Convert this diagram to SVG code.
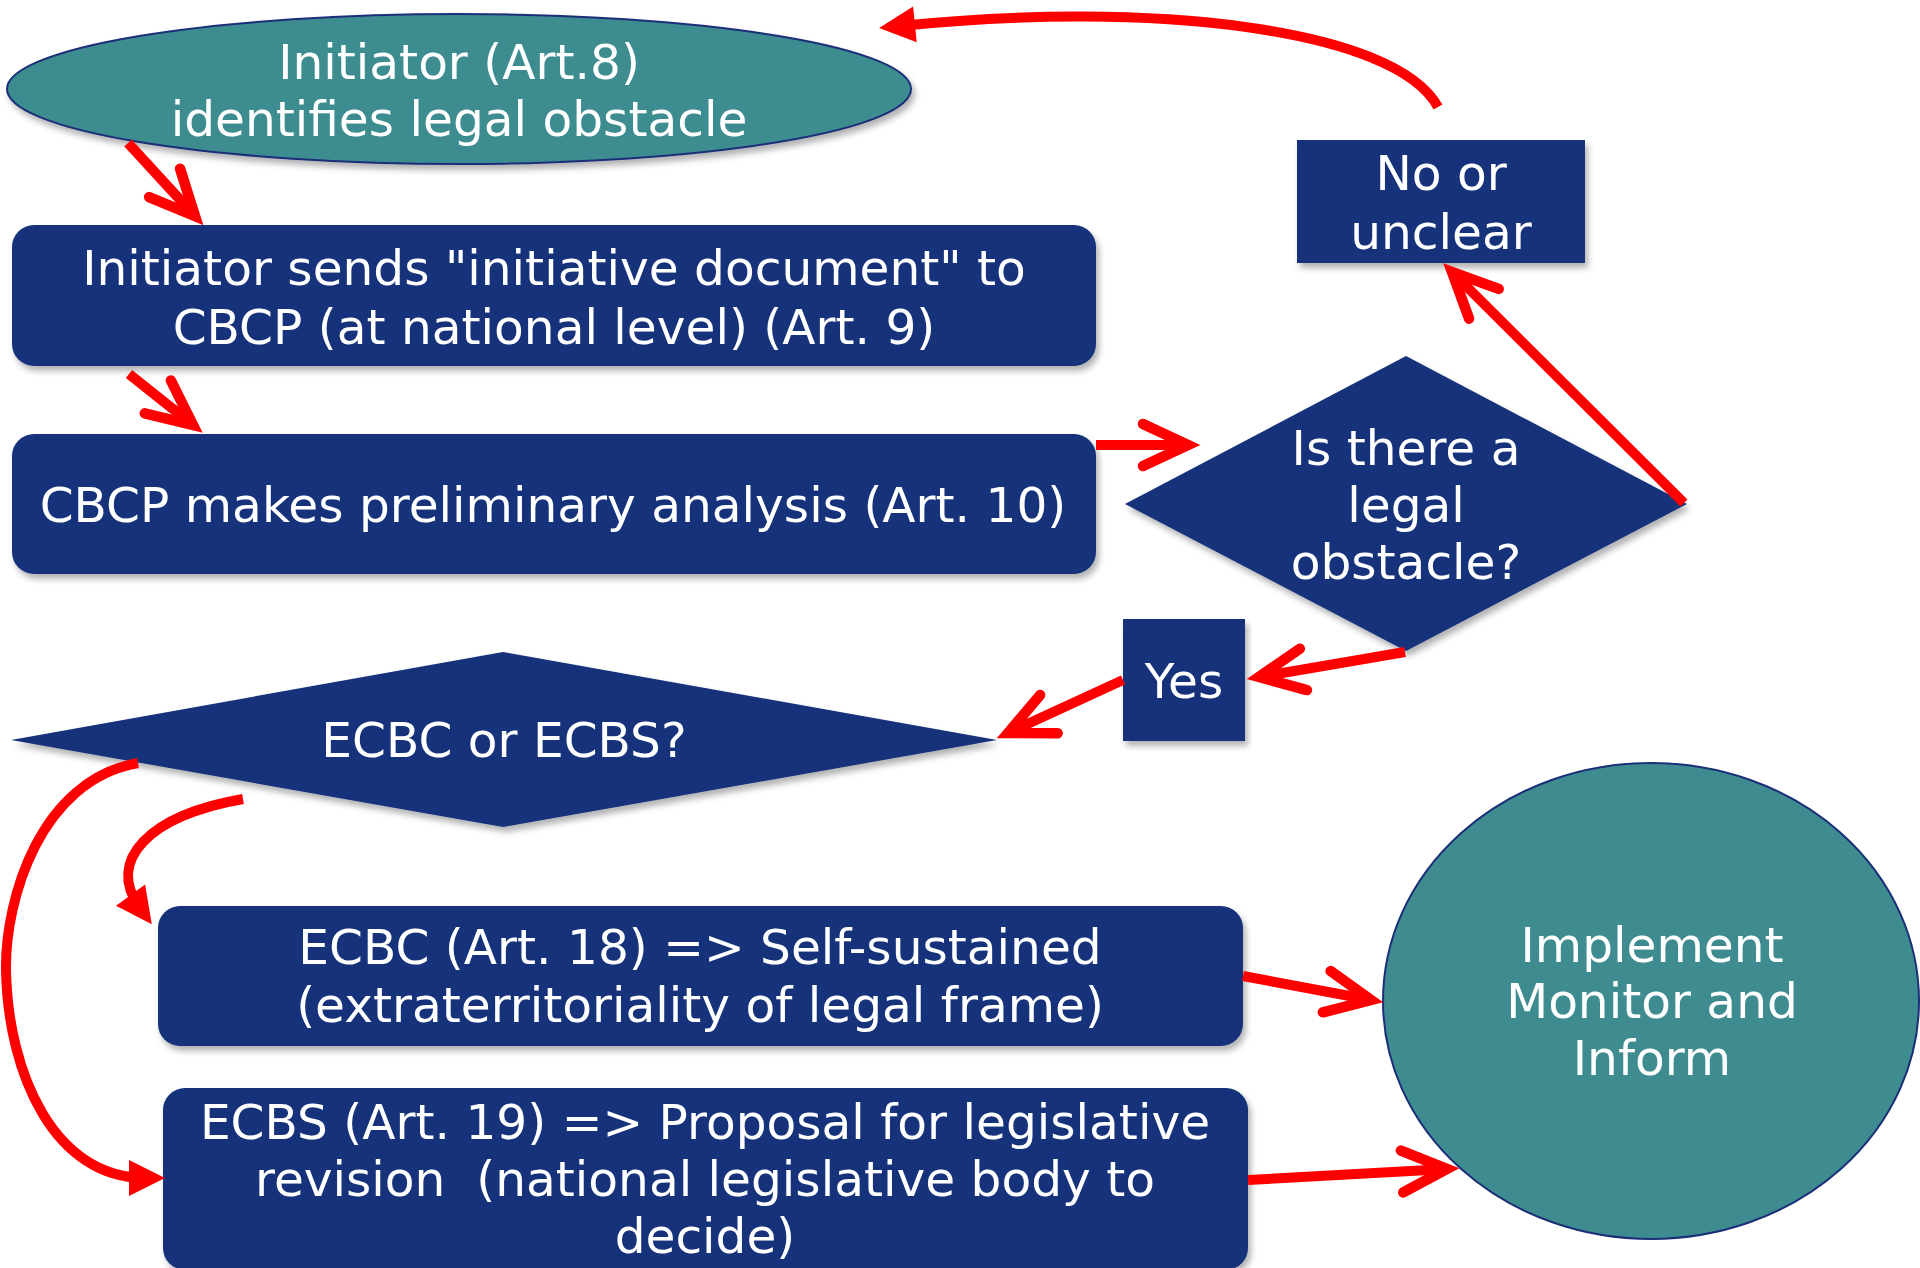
<svg xmlns="http://www.w3.org/2000/svg" width="1920" height="1268" viewBox="0 0 1920 1268">
<defs>
<style>
.navy{fill:#14317A;}
.teal{fill:#3E8C90;stroke:#1B2F78;stroke-width:2;}
.t{font-family:"DejaVu Sans","Verdana",sans-serif;font-size:48.6px;fill:#FFFFFF;text-anchor:middle;white-space:pre;}
.lnc{fill:none;stroke:#FF0000;stroke-width:10;stroke-linecap:butt;marker-end:url(#tri);}
.lns{fill:none;stroke:#FF0000;stroke-width:10;stroke-linecap:butt;marker-end:url(#chev);}
</style>
<filter id="sh" x="-5%" y="-10%" width="110%" height="130%">
<feDropShadow dx="3" dy="5" stdDeviation="3" flood-color="#000000" flood-opacity="0.3"/>
</filter>
<marker id="chev" markerUnits="userSpaceOnUse" viewBox="-70 -40 90 80" markerWidth="90" markerHeight="80" refX="0" refY="0" orient="auto" overflow="visible">
<path d="M-45,-21 L0,0 L-45,21" fill="none" stroke="#FF0000" stroke-width="10.5" stroke-linecap="round" stroke-linejoin="miter"/>
</marker>
<marker id="tri" markerUnits="userSpaceOnUse" viewBox="-30 -30 60 60" markerWidth="60" markerHeight="60" refX="0" refY="0" orient="auto" overflow="visible">
<path d="M-16,-18 L20,0 L-16,18 Z" fill="#FF0000"/>
</marker>
</defs>
<rect width="1920" height="1268" fill="#FFFFFF"/>

<g id="initiator">
<ellipse class="teal" cx="459" cy="89" rx="452" ry="75" filter="url(#sh)"/>
<text class="t" x="459" y="79">Initiator (Art.8)</text>
<text class="t" x="459" y="136">identifies legal obstacle</text>
</g>

<g id="sends">
<rect class="navy" x="12" y="225" width="1084" height="141" rx="22" filter="url(#sh)"/>
<text class="t" x="554" y="285">Initiator sends "initiative document" to</text>
<text class="t" x="554" y="344">CBCP (at national level) (Art. 9)</text>
</g>

<g id="analysis">
<rect class="navy" x="12" y="434" width="1084" height="140" rx="22" filter="url(#sh)"/>
<text class="t" x="553" y="522">CBCP makes preliminary analysis (Art. 10)</text>
</g>

<g id="obstacle">
<polygon class="navy" points="1125,504 1406,356 1687,504 1406,651" filter="url(#sh)"/>
<text class="t" x="1406" y="465">Is there a</text>
<text class="t" x="1406" y="522">legal</text>
<text class="t" x="1406" y="579">obstacle?</text>
</g>

<g id="unclear">
<rect class="navy" x="1297" y="140" width="288" height="123" filter="url(#sh)"/>
<text class="t" x="1441" y="190">No or</text>
<text class="t" x="1441" y="249">unclear</text>
</g>

<g id="yes">
<rect class="navy" x="1123" y="619" width="122" height="122" filter="url(#sh)"/>
<text class="t" x="1184" y="698">Yes</text>
</g>

<g id="ecbc-or-ecbs">
<polygon class="navy" points="11,740 503,652 997,740 503,827" filter="url(#sh)"/>
<text class="t" x="504" y="757">ECBC or ECBS?</text>
</g>

<g id="ecbc">
<rect class="navy" x="158" y="906" width="1085" height="140" rx="22" filter="url(#sh)"/>
<text class="t" x="700" y="964">ECBC (Art. 18) =&gt; Self-sustained</text>
<text class="t" x="700" y="1022">(extraterritoriality of legal frame)</text>
</g>

<g id="ecbs">
<rect class="navy" x="163" y="1088" width="1085" height="182" rx="22" filter="url(#sh)"/>
<text class="t" x="705" y="1139">ECBS (Art. 19) =&gt; Proposal for legislative</text>
<text class="t" x="705" y="1196">revision  (national legislative body to</text>
<text class="t" x="705" y="1253">decide)</text>
</g>

<g id="implement">
<ellipse class="teal" cx="1651" cy="1001" rx="268" ry="238"/>
<text class="t" x="1652" y="962">Implement</text>
<text class="t" x="1652" y="1018">Monitor and</text>
<text class="t" x="1652" y="1075">Inform</text>
</g>

<g id="connectors">
<path class="lns" d="M128,143 L195,216"/>
<path class="lns" d="M129,374 L193,425"/>
<path class="lns" d="M1096,445 L1188,445"/>
<path class="lns" d="M1684,503 L1452,272"/>
<path class="lnc" d="M1438,107 C1395,28 1150,0 899,26"/>
<path class="lns" d="M1405,652 L1259,677"/>
<path class="lns" d="M1123,680 L1008,733"/>
<path class="lnc" d="M243,799 C150,815 105,860 140,908"/>
<path class="lnc" d="M138,763 C40,780 5,900 6,970 C8,1075 55,1178 145,1178"/>
<path class="lns" d="M1243,976 L1371,1000"/>
<path class="lns" d="M1248,1180 L1447,1169"/>
</g>
</svg>
